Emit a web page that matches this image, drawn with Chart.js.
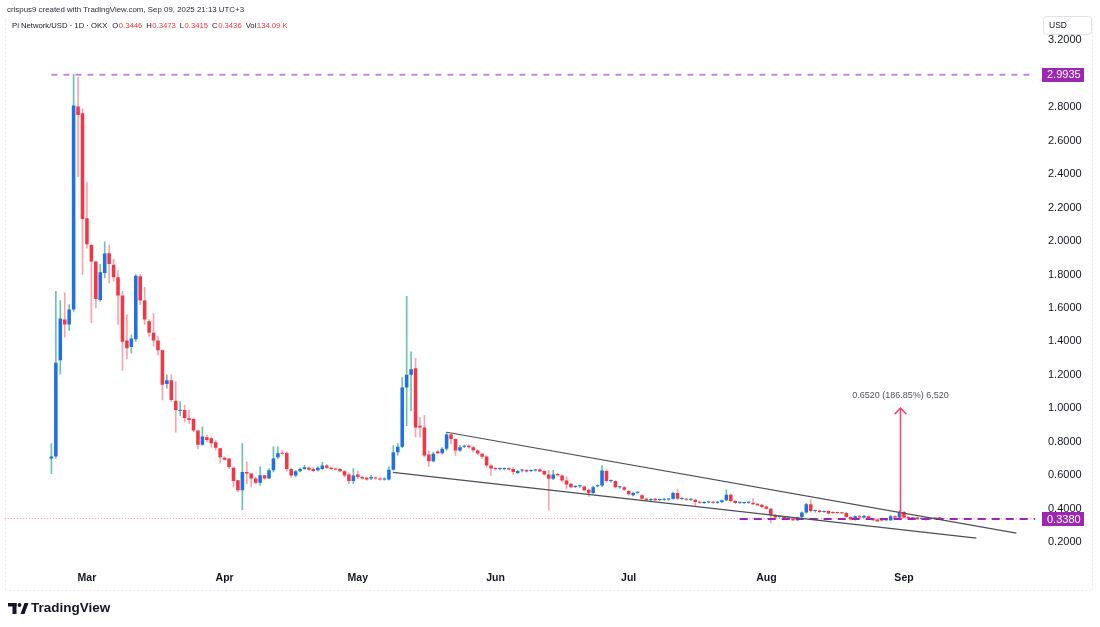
<!DOCTYPE html>
<html>
<head>
<meta charset="utf-8">
<title>Pi Network/USD - 1D - OKX</title>
<script src="https://cdn.jsdelivr.net/npm/chart.js@4.4.1/dist/chart.umd.min.js"></script>
<style>
    html, body { margin: 0; padding: 0; background: #fff; }
    canvas { display: block; }
</style>
</head>
<body>
<canvas id="piChart" width="1100" height="627"></canvas>
<script>
// daily candles, first one on 2025-02-21, last one 2025-09-09
const firstCandle = '2025-02-21';

const opens = [
    0.700, 0.712, 1.287, 1.531, 1.501, 1.591, 2.804, 2.764, 2.136, 1.977,
    1.878, 1.648, 1.809, 1.927, 1.858, 1.783, 1.674, 1.406, 1.367, 1.413,
    1.789, 1.644, 1.521, 1.452, 1.406, 1.347, 1.145, 1.168, 1.045, 0.985,
    0.990, 0.940, 0.936, 0.867, 0.783, 0.827, 0.821, 0.797, 0.762, 0.705,
    0.700, 0.645, 0.570, 0.510, 0.620, 0.610, 0.580, 0.555, 0.600, 0.580,
    0.630, 0.708, 0.735, 0.733, 0.638, 0.598, 0.624, 0.638, 0.645, 0.638,
    0.630, 0.638, 0.658, 0.645, 0.640, 0.638, 0.624, 0.604, 0.565, 0.604,
    0.590, 0.585, 0.580, 0.587, 0.580, 0.575, 0.575, 0.633, 0.738, 0.771,
    1.124, 1.200, 1.240, 0.896, 0.886, 0.724, 0.684, 0.742, 0.732, 0.758,
    0.843, 0.817, 0.748, 0.770, 0.777, 0.768, 0.748, 0.728, 0.712, 0.658,
    0.640, 0.637, 0.638, 0.642, 0.638, 0.613, 0.628, 0.632, 0.626, 0.628,
    0.635, 0.625, 0.605, 0.579, 0.608, 0.599, 0.569, 0.549, 0.530, 0.534,
    0.533, 0.514, 0.494, 0.535, 0.539, 0.625, 0.565, 0.565, 0.528, 0.529,
    0.506, 0.480, 0.495, 0.480, 0.460, 0.452, 0.460, 0.452, 0.454, 0.455,
    0.460, 0.494, 0.458, 0.460, 0.453, 0.454, 0.440, 0.434, 0.437, 0.441,
    0.436, 0.440, 0.450, 0.484, 0.446, 0.435, 0.434, 0.436, 0.436, 0.430,
    0.424, 0.414, 0.400, 0.361, 0.350, 0.352, 0.342, 0.341, 0.331, 0.350,
    0.378, 0.426, 0.387, 0.390, 0.381, 0.386, 0.380, 0.377, 0.375, 0.375,
    0.351, 0.335, 0.355, 0.347, 0.355, 0.341, 0.335, 0.331, 0.331, 0.331,
    0.355, 0.347, 0.381, 0.350, 0.343, 0.347, 0.339, 0.341, 0.338, 0.346,
    0.3446
];
const highs = [
    0.790, 1.700, 1.644, 1.690, 1.620, 2.998, 2.978, 2.790, 2.350, 1.981,
    1.880, 1.860, 1.995, 1.977, 1.890, 1.823, 1.700, 1.561, 1.440, 1.800,
    1.800, 1.723, 1.530, 1.567, 1.430, 1.350, 1.200, 1.200, 1.160, 1.040,
    1.020, 0.990, 0.940, 0.870, 0.890, 0.840, 0.830, 0.810, 0.762, 0.710,
    0.700, 0.650, 0.570, 0.790, 0.680, 0.610, 0.590, 0.650, 0.600, 0.640,
    0.770, 0.770, 0.750, 0.740, 0.640, 0.630, 0.645, 0.660, 0.650, 0.645,
    0.650, 0.678, 0.665, 0.650, 0.645, 0.640, 0.630, 0.615, 0.640, 0.625,
    0.595, 0.590, 0.600, 0.590, 0.585, 0.585, 0.650, 0.778, 0.790, 1.184,
    1.670, 1.337, 1.299, 0.945, 0.956, 0.748, 0.738, 0.748, 0.765, 0.857,
    0.847, 0.817, 0.778, 0.782, 0.782, 0.772, 0.752, 0.732, 0.716, 0.662,
    0.648, 0.645, 0.645, 0.645, 0.648, 0.630, 0.635, 0.636, 0.632, 0.636,
    0.640, 0.628, 0.630, 0.630, 0.612, 0.603, 0.592, 0.552, 0.538, 0.540,
    0.537, 0.518, 0.535, 0.545, 0.658, 0.633, 0.572, 0.568, 0.534, 0.532,
    0.510, 0.500, 0.502, 0.485, 0.464, 0.460, 0.463, 0.458, 0.460, 0.462,
    0.500, 0.514, 0.466, 0.463, 0.460, 0.456, 0.445, 0.442, 0.445, 0.444,
    0.444, 0.452, 0.513, 0.488, 0.448, 0.440, 0.440, 0.442, 0.460, 0.432,
    0.426, 0.418, 0.402, 0.366, 0.356, 0.355, 0.350, 0.344, 0.350, 0.382,
    0.432, 0.454, 0.392, 0.393, 0.388, 0.389, 0.383, 0.380, 0.378, 0.378,
    0.354, 0.358, 0.360, 0.360, 0.358, 0.344, 0.338, 0.336, 0.338, 0.360,
    0.358, 0.390, 0.384, 0.353, 0.348, 0.350, 0.346, 0.345, 0.345, 0.348,
    0.3473
];
const lows = [
    0.610, 0.700, 1.204, 1.426, 1.466, 1.580, 2.384, 1.800, 1.957, 1.510,
    1.600, 1.640, 1.779, 1.749, 1.760, 1.502, 1.228, 1.297, 1.330, 1.400,
    1.620, 1.501, 1.430, 1.372, 1.320, 1.050, 1.120, 1.040, 0.857, 0.956,
    0.920, 0.910, 0.860, 0.758, 0.780, 0.800, 0.768, 0.750, 0.673, 0.690,
    0.640, 0.530, 0.500, 0.394, 0.550, 0.530, 0.550, 0.540, 0.575, 0.580,
    0.620, 0.700, 0.725, 0.625, 0.585, 0.590, 0.620, 0.635, 0.630, 0.620,
    0.625, 0.635, 0.640, 0.635, 0.630, 0.620, 0.590, 0.550, 0.550, 0.580,
    0.575, 0.570, 0.575, 0.575, 0.570, 0.570, 0.570, 0.630, 0.720, 0.765,
    0.896, 0.986, 0.827, 0.827, 0.708, 0.653, 0.680, 0.728, 0.728, 0.750,
    0.787, 0.718, 0.743, 0.765, 0.762, 0.740, 0.722, 0.700, 0.648, 0.599,
    0.630, 0.632, 0.632, 0.630, 0.605, 0.610, 0.620, 0.618, 0.622, 0.625,
    0.620, 0.600, 0.391, 0.573, 0.595, 0.560, 0.520, 0.525, 0.526, 0.528,
    0.505, 0.474, 0.490, 0.530, 0.532, 0.558, 0.558, 0.525, 0.522, 0.508,
    0.480, 0.476, 0.490, 0.455, 0.448, 0.448, 0.448, 0.448, 0.450, 0.450,
    0.456, 0.455, 0.455, 0.450, 0.450, 0.420, 0.432, 0.430, 0.434, 0.432,
    0.432, 0.436, 0.446, 0.440, 0.430, 0.430, 0.430, 0.431, 0.425, 0.418,
    0.405, 0.396, 0.315, 0.340, 0.344, 0.338, 0.338, 0.328, 0.328, 0.344,
    0.372, 0.380, 0.380, 0.378, 0.378, 0.368, 0.372, 0.372, 0.370, 0.348,
    0.332, 0.332, 0.342, 0.345, 0.338, 0.330, 0.322, 0.326, 0.328, 0.328,
    0.344, 0.345, 0.342, 0.338, 0.338, 0.334, 0.336, 0.331, 0.334, 0.334,
    0.3415
];
const closes = [
    0.712, 1.273, 1.537, 1.501, 1.591, 2.810, 2.754, 2.132, 1.981, 1.878,
    1.654, 1.813, 1.926, 1.862, 1.783, 1.674, 1.398, 1.359, 1.418, 1.793,
    1.644, 1.531, 1.452, 1.406, 1.347, 1.141, 1.168, 1.050, 0.990, 0.992,
    0.942, 0.930, 0.867, 0.783, 0.831, 0.811, 0.791, 0.764, 0.708, 0.693,
    0.649, 0.566, 0.510, 0.620, 0.610, 0.580, 0.555, 0.600, 0.580, 0.630,
    0.700, 0.732, 0.728, 0.638, 0.598, 0.624, 0.638, 0.648, 0.633, 0.625,
    0.645, 0.658, 0.645, 0.638, 0.635, 0.624, 0.598, 0.565, 0.598, 0.590,
    0.580, 0.575, 0.590, 0.580, 0.575, 0.578, 0.633, 0.738, 0.771, 1.124,
    1.200, 1.234, 0.886, 0.886, 0.718, 0.684, 0.728, 0.732, 0.758, 0.843,
    0.817, 0.748, 0.768, 0.777, 0.768, 0.750, 0.730, 0.710, 0.658, 0.640,
    0.638, 0.640, 0.641, 0.634, 0.619, 0.625, 0.630, 0.622, 0.628, 0.633,
    0.623, 0.605, 0.579, 0.605, 0.600, 0.569, 0.545, 0.529, 0.534, 0.538,
    0.510, 0.494, 0.529, 0.539, 0.629, 0.565, 0.568, 0.529, 0.530, 0.514,
    0.486, 0.494, 0.498, 0.460, 0.452, 0.456, 0.450, 0.455, 0.457, 0.458,
    0.494, 0.460, 0.462, 0.454, 0.456, 0.440, 0.436, 0.437, 0.441, 0.435,
    0.440, 0.450, 0.484, 0.446, 0.434, 0.437, 0.436, 0.438, 0.426, 0.420,
    0.410, 0.400, 0.361, 0.347, 0.352, 0.341, 0.345, 0.331, 0.347, 0.378,
    0.426, 0.387, 0.390, 0.381, 0.386, 0.371, 0.375, 0.375, 0.373, 0.351,
    0.335, 0.355, 0.347, 0.357, 0.341, 0.331, 0.325, 0.330, 0.335, 0.355,
    0.347, 0.381, 0.347, 0.341, 0.345, 0.337, 0.341, 0.335, 0.340, 0.341,
    0.3436
];

const priceTicks = [0.2, 0.4, 0.6, 0.8, 1.0, 1.2, 1.4, 1.6, 1.8, 2.0, 2.2, 2.4, 2.6, 2.8, 3.0, 3.2];
const monthNames = ['Jan', 'Feb', 'Mar', 'Apr', 'May', 'Jun', 'Jul', 'Aug', 'Sep', 'Oct', 'Nov', 'Dec'];

// drawings on the chart (day offsets counted from the first candle)
const topLevel = 2.9935;
const bottomLevel = 0.3380;
const bottomLevelFrom = '2025-07-26';
const upperTrend = [[89, 0.857], [217.3, 0.254]];
const lowerTrend = [[76.9, 0.617], [208.3, 0.224]];
const moveDay = 191;
const moveFrom = 0.3489;
const moveTo = 1.0009;
const moveLabel = '0.6520 (186.85%) 6,520';

const upBody = '#1f6fe5';
const downBody = '#f23645';
const upWick = 'rgba(8, 153, 129, 0.6)';
const downWick = 'rgba(242, 54, 69, 0.45)';
const levelColor = '#9c27b0';
const fontFamily = "'Liberation Sans', Arial, sans-serif";

// time axis runs a bit before the first candle and past the last one
const axisStart = Date.UTC(2025, 1, 11);
const axisDays = 232;
const dayMs = 86400000;
const dates = Array.from({ length: axisDays }, (_, k) => new Date(axisStart + k * dayMs));
const labels = dates.map((d) => d.toISOString().split('T')[0]);
const pad = labels.indexOf(firstCandle);

const candleAt = (k) => {
    const i = k - pad;
    return i >= 0 && i < opens.length ? i : -1;
};
const isUp = (k) => {
    const i = candleAt(k);
    return i >= 0 && closes[i] >= opens[i];
};

const wicks = labels.map((_, k) => {
    const i = candleAt(k);
    return i >= 0 ? [lows[i], highs[i]] : null;
});
const bodies = labels.map((_, k) => {
    const i = candleAt(k);
    return i >= 0 ? [opens[i], closes[i]] : null;
});

const line = (ctx, x1, y1, x2, y2) => {
    ctx.beginPath();
    ctx.moveTo(x1, y1);
    ctx.lineTo(x2, y2);
    ctx.stroke();
};

const priceBox = (ctx, area, yy, text) => {
    ctx.fillStyle = levelColor;
    ctx.fillRect(area.right + 7, Math.round(yy) - 7, 42, 14);
    ctx.fillStyle = '#fff';
    ctx.font = `11px ${fontFamily}`;
    ctx.textAlign = 'left';
    ctx.textBaseline = 'middle';
    ctx.fillText(text, area.right + 12, yy + 0.5);
};

const drawHeader = (ctx) => {
    ctx.textAlign = 'left';
    ctx.textBaseline = 'middle';
    ctx.font = `7.9px ${fontFamily}`;
    ctx.fillStyle = '#2a2e39';
    ctx.fillText('crispus9 created with TradingView.com, Sep 09, 2025 21:13 UTC+3', 7, 10);

    const last = opens.length - 1;
    const parts = [
        ['Pi Network/USD · 1D · OKX', '#131722', 0],
        ['O', '#131722', 5], [opens[last].toFixed(4), downBody, 0.5],
        ['H', '#131722', 4], [highs[last].toFixed(4), downBody, 0.5],
        ['L', '#131722', 4], [lows[last].toFixed(4), downBody, 0.5],
        ['C', '#131722', 4], [closes[last].toFixed(4), downBody, 0.5],
        ['Vol', '#131722', 4], ['134.09 K', downBody, 0.5],
    ];
    let x = 12;
    ctx.font = `7.7px ${fontFamily}`;
    parts.forEach(([text, color, gap]) => {
        x += gap;
        ctx.fillStyle = color;
        ctx.fillText(text, x, 26);
        x += ctx.measureText(text).width;
    });
};

const drawLogo = (ctx) => {
    ctx.fillStyle = '#131722';
    ctx.fillRect(8, 603, 8.5, 3.5);
    ctx.fillRect(12.5, 603, 4, 11);
    ctx.beginPath();
    ctx.arc(19.5, 605, 1.9, 0, Math.PI * 2);
    ctx.fill();
    ctx.beginPath();
    ctx.moveTo(20.5, 614);
    ctx.lineTo(24.5, 614);
    ctx.lineTo(28.5, 603);
    ctx.lineTo(24.5, 603);
    ctx.closePath();
    ctx.fill();
    ctx.font = `bold 13.5px ${fontFamily}`;
    ctx.textAlign = 'left';
    ctx.textBaseline = 'middle';
    ctx.fillText('TradingView', 31, 608.5);
};

const overlay = {
    id: 'overlay',
    beforeDraw(chart) {
        const { ctx, width, height } = chart;
        ctx.save();
        ctx.fillStyle = '#fff';
        ctx.fillRect(0, 0, width, height);
        ctx.restore();
    },
    beforeDatasetsDraw(chart) {
        const { ctx, chartArea: a, scales: { y } } = chart;
        // last price line
        ctx.save();
        ctx.strokeStyle = 'rgba(242, 54, 69, 0.55)';
        ctx.lineWidth = 1;
        ctx.setLineDash([1, 2]);
        const yy = Math.round(y.getPixelForValue(closes[closes.length - 1])) + 0.5;
        line(ctx, a.left, yy, a.right, yy);
        ctx.restore();
    },
    afterDatasetsDraw(chart) {
        const { ctx, chartArea: a, scales: { x, y } } = chart;
        const xDay = (d) => x.getPixelForValue(d + pad);

        ctx.save();
        ctx.beginPath();
        ctx.rect(a.left, a.top, a.right - a.left, a.bottom - a.top);
        ctx.clip();

        // horizontal levels
        ctx.lineWidth = 2;
        ctx.setLineDash([6, 6]);
        ctx.strokeStyle = 'rgba(156, 39, 176, 0.55)';
        const yTop = y.getPixelForValue(topLevel);
        line(ctx, xDay(0), yTop, a.right, yTop);

        ctx.setLineDash([8, 6]);
        ctx.strokeStyle = levelColor;
        const yBottom = y.getPixelForValue(bottomLevel);
        line(ctx, x.getPixelForValue(labels.indexOf(bottomLevelFrom)), yBottom, a.right, yBottom);

        // falling wedge
        ctx.setLineDash([]);
        ctx.lineWidth = 1.2;
        ctx.strokeStyle = '#4c4f57';
        [upperTrend, lowerTrend].forEach(([p1, p2]) => {
            line(ctx, xDay(p1[0]), y.getPixelForValue(p1[1]), xDay(p2[0]), y.getPixelForValue(p2[1]));
        });

        // measured move arrow
        const ax = Math.round(xDay(moveDay)) + 0.5;
        const a1 = y.getPixelForValue(moveFrom);
        const a2 = y.getPixelForValue(moveTo);
        ctx.strokeStyle = '#f0416f';
        ctx.lineWidth = 1.5;
        line(ctx, ax, a1, ax, a2);
        ctx.beginPath();
        ctx.moveTo(ax - 6, a2 + 6);
        ctx.lineTo(ax, a2);
        ctx.lineTo(ax + 6, a2 + 6);
        ctx.stroke();
        ctx.fillStyle = '#50535e';
        ctx.font = `9px ${fontFamily}`;
        ctx.textAlign = 'center';
        ctx.textBaseline = 'middle';
        ctx.fillText(moveLabel, ax, a2 - 13);
        ctx.restore();
    },
    afterDraw(chart) {
        const { ctx, chartArea: a, scales: { y } } = chart;
        ctx.save();

        // faint pane borders
        ctx.strokeStyle = '#e9ebf0';
        ctx.lineWidth = 1;
        ctx.setLineDash([2, 2]);
        line(ctx, 5.5, a.top, 5.5, 590.5);
        line(ctx, 5.5, 590.5, 1092.5, 590.5);
        line(ctx, 1092.5, a.top, 1092.5, 590.5);
        ctx.setLineDash([]);

        priceBox(ctx, a, y.getPixelForValue(topLevel), topLevel.toFixed(4));
        priceBox(ctx, a, y.getPixelForValue(bottomLevel), bottomLevel.toFixed(4));

        // currency tag over the top tick
        ctx.fillStyle = '#fff';
        ctx.strokeStyle = '#e0e3eb';
        ctx.beginPath();
        ctx.roundRect(1043.5, 16.5, 48, 18, 3);
        ctx.fill();
        ctx.stroke();
        ctx.fillStyle = '#131722';
        ctx.font = `8.5px ${fontFamily}`;
        ctx.textAlign = 'left';
        ctx.textBaseline = 'middle';
        ctx.fillText('USD', 1049, 26);

        drawHeader(ctx);
        drawLogo(ctx);
        ctx.restore();
    },
};

Chart.defaults.font.family = fontFamily;

const piChart = new Chart(document.getElementById('piChart').getContext('2d'), {
    type: 'bar',
    data: {
        labels: labels,
        datasets: [
            {
                label: 'Wick',
                data: wicks,
                grouped: false,
                barThickness: 1,
                backgroundColor: (c) => (isUp(c.dataIndex) ? upWick : downWick),
                order: 2,
            },
            {
                label: 'Body',
                data: bodies,
                grouped: false,
                categoryPercentage: 1,
                barPercentage: 0.8,
                minBarLength: 1,
                backgroundColor: (c) => (isUp(c.dataIndex) ? upBody : downBody),
                order: 1,
            },
        ],
    },
    options: {
        responsive: false,
        animation: false,
        layout: { padding: { left: 3, right: 8, top: 17, bottom: 37 } },
        plugins: {
            legend: { display: false },
            tooltip: { enabled: false },
        },
        scales: {
            x: {
                type: 'category',
                offset: true,
                grid: { display: false, drawTicks: false },
                border: { display: false },
                ticks: {
                    autoSkip: false,
                    maxRotation: 0,
                    minRotation: 0,
                    padding: 7,
                    color: '#131722',
                    font: { size: 10.5, weight: 'bold' },
                    callback: (value, index) => {
                        const d = dates[index];
                        return d.getUTCDate() === 1 ? monthNames[d.getUTCMonth()] : '';
                    },
                },
                afterFit: (scale) => {
                    scale.height = 25;
                },
            },
            y: {
                type: 'linear',
                position: 'right',
                min: 0.0636,
                max: 3.3235,
                grid: { display: false, drawTicks: false },
                border: { display: false },
                ticks: {
                    padding: 13,
                    color: '#131722',
                    font: { size: 11 },
                    callback: (value) => value.toFixed(4),
                },
                afterBuildTicks: (scale) => {
                    scale.ticks = priceTicks.map((value) => ({ value }));
                },
                afterFit: (scale) => {
                    scale.width = 57;
                },
            },
        },
    },
    plugins: [overlay],
});
</script>
</body>
</html>
